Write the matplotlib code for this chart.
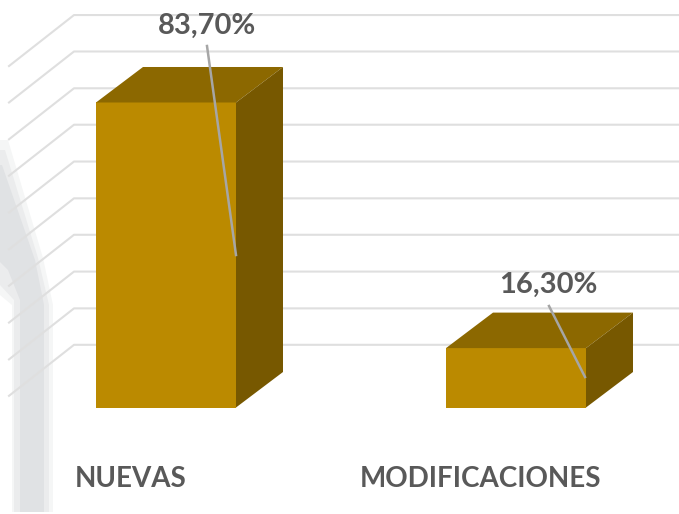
"""Recreate the 3D-look column chart (NUEVAS / MODIFICACIONES)."""
import matplotlib
matplotlib.use("Agg")
import matplotlib.pyplot as plt
from matplotlib.patches import Polygon, Rectangle

categories = ["NUEVAS", "MODIFICACIONES"]
shares = [83.7, 16.3]
share_labels = ["83,70%", "16,30%"]
grid_levels = [17.2, 27.2, 37.3, 47.4, 57.4, 67.5, 77.6, 87.6, 97.7, 107.7]

W, H = 679, 514
PX_PER_UNIT = 3.644
BASE_PX = 407.5
DX, DY = 47, 35.5 / PX_PER_UNIT

FRONT = "#BB8A00"
TOP = "#8C6800"
SIDE = "#775800"
GRID = "#DFDFDF"
TEXT = "#595959"


def py(pixel_y):
    # page pixel row to percent units
    return (BASE_PX - pixel_y) / PX_PER_UNIT


def main():
    plt.rcParams["font.family"] = ["Lato", "DejaVu Sans"]
    fig = plt.figure(figsize=(W / 100, H / 100), dpi=100)
    ax = fig.add_axes([0, 0, 1, 1])
    ax.set_xlim(0, W)
    ax.set_ylim(py(H), py(0))
    ax.axis("off")

    # faded band down the left side, outer shapes lighter
    bands = [
        ("#F5F6F6", [(0, 140), (8, 140), (43, 258), (53, 305), (53, 512), (12, 512), (12, 305), (0, 295)]),
        ("#EBECED", [(0, 150), (5, 150), (38, 258), (49, 305), (49, 512), (14, 512), (14, 300), (0, 285)]),
        ("#E0E2E4", [(0, 165), (2, 165), (35, 260), (44, 305), (44, 512), (20, 512), (20, 300), (8, 270), (0, 262)]),
    ]
    for col, pts in bands:
        ax.add_patch(Polygon([(x, py(y)) for x, y in pts], fc=col, ec="none", zorder=1))

    for lev in grid_levels:
        ax.plot([9, 74, W], [lev - 51 / PX_PER_UNIT, lev, lev], color=GRID, lw=1.5, zorder=2)

    for x0, val in zip([96, 446], shares):
        x1 = x0 + 140
        ax.add_patch(Rectangle((x0, 0), 140, val, fc=FRONT, ec="none", zorder=3))
        ax.add_patch(Polygon([(x0, val), (x1, val), (x1 + DX, val + DY), (x0 + DX, val + DY)],
                             fc=TOP, ec="none", zorder=3))
        ax.add_patch(Polygon([(x1, 0), (x1 + DX, DY), (x1 + DX, val + DY), (x1, val)],
                             fc=SIDE, ec="none", zorder=3))

    # label leader lines
    ax.plot([207, 236], [py(46), py(255)], color="#A6A6A6", lw=1.8, zorder=4)
    ax.plot([549, 585], [py(306), py(377)], color="#A6A6A6", lw=1.8, zorder=4)

    ax.text(207, py(26), share_labels[0], ha="center", va="center", fontsize=21,
            fontweight="bold", color=TEXT, zorder=5)
    ax.text(548, py(285), share_labels[1], ha="center", va="center", fontsize=21,
            fontweight="bold", color=TEXT, zorder=5)
    for x, name in zip([131, 480], categories):
        ax.text(x, py(479), name, ha="center", va="center", fontsize=20,
                fontweight="bold", color=TEXT, zorder=5)

    fig.savefig("out.png", dpi=100)
    plt.close(fig)


if __name__ == "__main__":
    main()
